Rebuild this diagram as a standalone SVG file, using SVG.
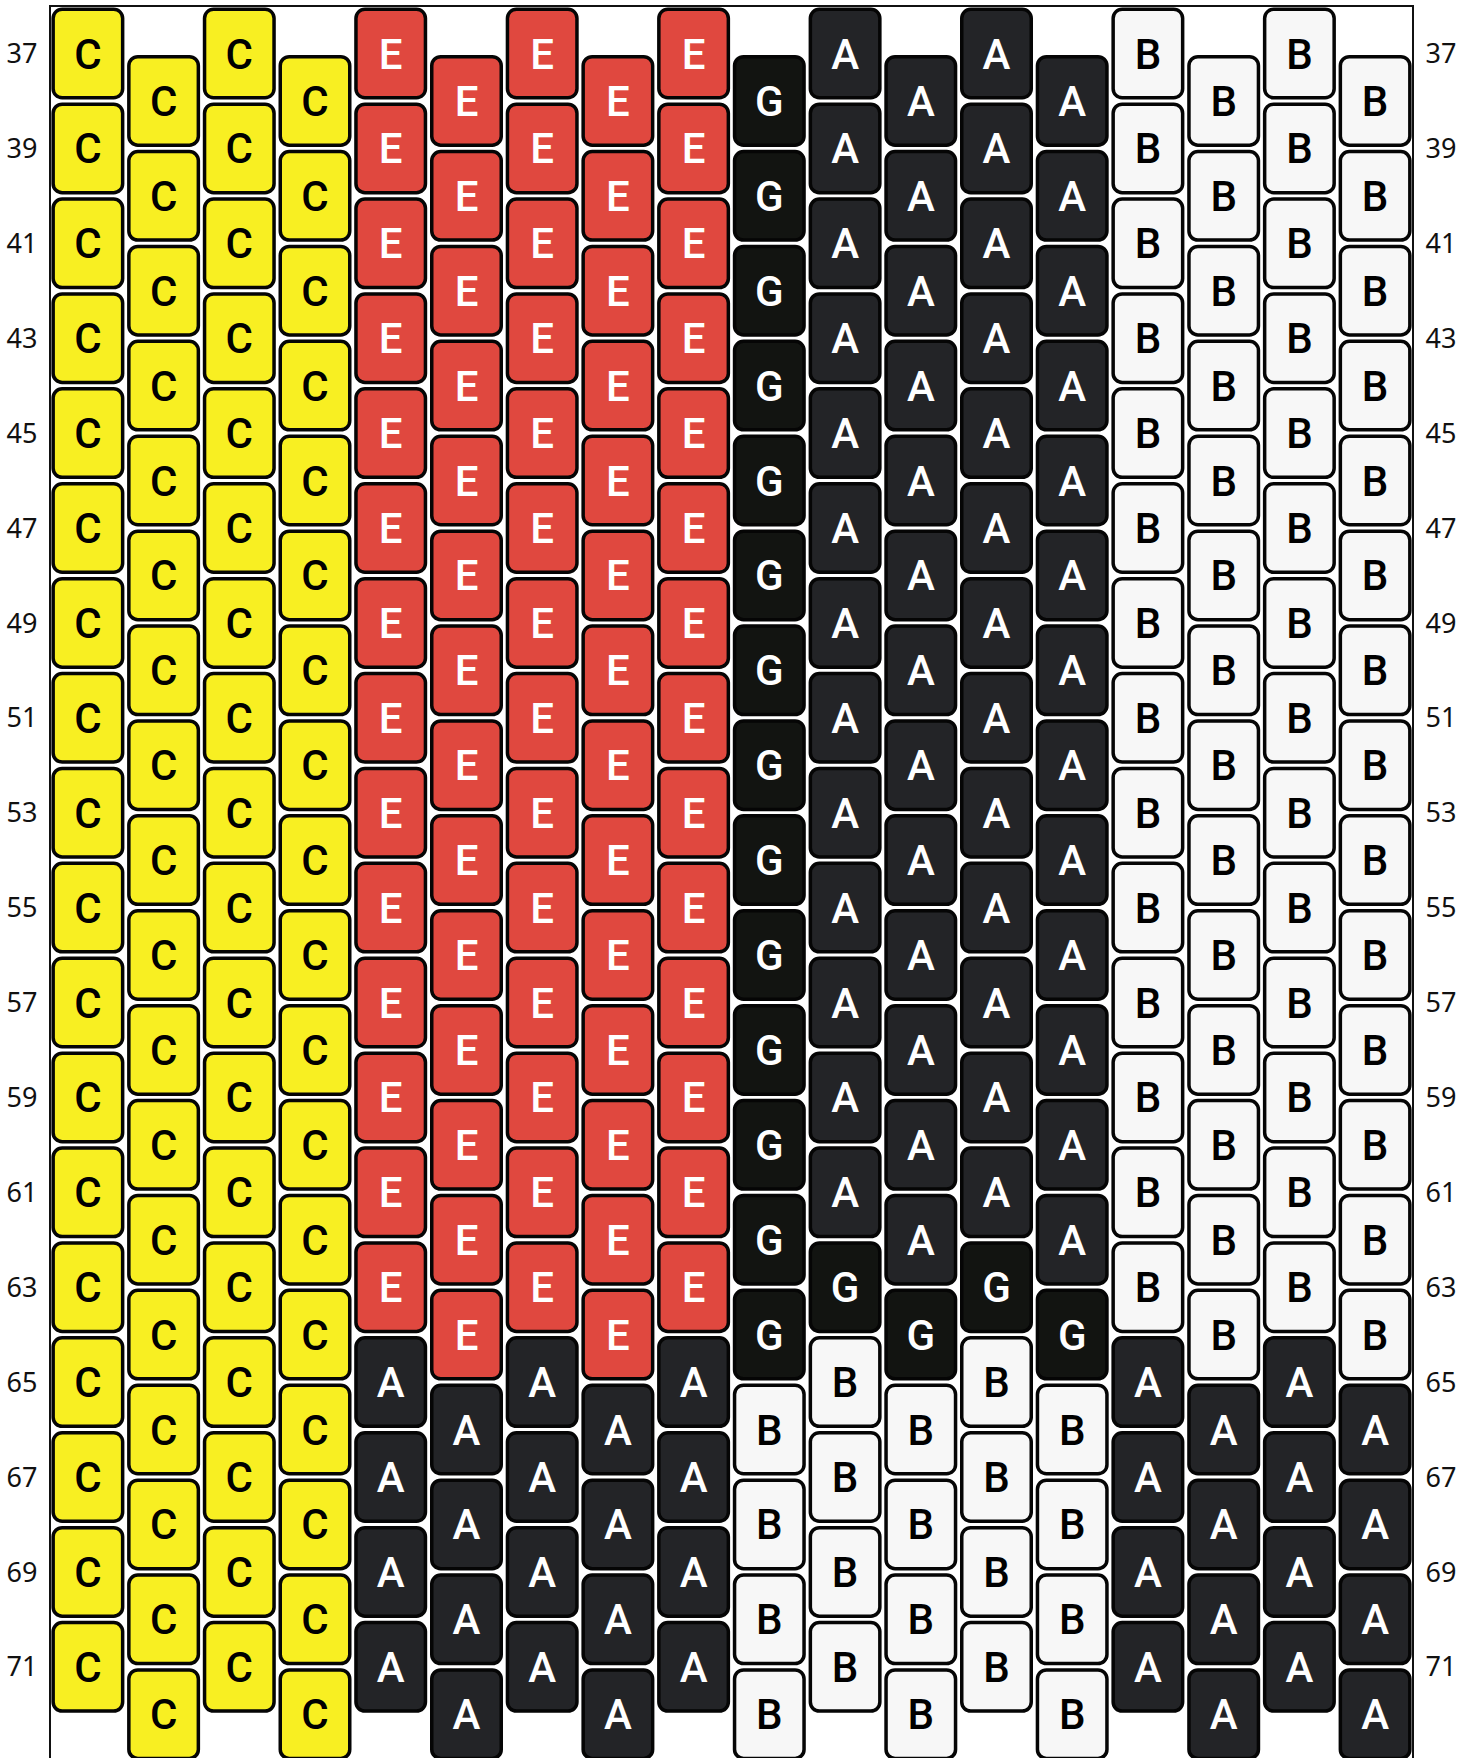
<svg xmlns="http://www.w3.org/2000/svg" width="1478" height="1758" viewBox="0 0 1478 1758">
<style>
.bg{fill:#fff}
.frame{fill:#fff;stroke:#111;stroke-width:2}
.lab{font-family:"Noto Sans","Open Sans",sans-serif;font-size:27px;fill:#111;text-anchor:middle}
.bead text{font-family:Roboto,"Liberation Sans",Arial,sans-serif;font-weight:500;font-size:42px;text-anchor:middle}
.y{fill:#f8ef22}.r{fill:#e0483f}.a{fill:#232427}.g{fill:#121411}.w{fill:#f7f7f7}
.y text,.w text{fill:#000}
.r text,.a text,.g text{fill:#fff}
</style>
<defs>
<rect id="bd" x="-34.75" y="-44.25" width="69.5" height="88.5" rx="9" stroke="#050505" stroke-width="3.5"/>
</defs>
<rect class="bg" x="0" y="0" width="1478" height="1758"/>
<rect class="frame" x="50" y="6" width="1363" height="1800"/>
<g id="labels-left">
<text class="lab" x="22" y="63.1">37</text><text class="lab" x="22" y="158">39</text><text class="lab" x="22" y="252.9">41</text><text class="lab" x="22" y="347.8">43</text><text class="lab" x="22" y="442.7">45</text><text class="lab" x="22" y="537.6">47</text><text class="lab" x="22" y="632.5">49</text><text class="lab" x="22" y="727.4">51</text><text class="lab" x="22" y="822.3">53</text><text class="lab" x="22" y="917.2">55</text><text class="lab" x="22" y="1012.1">57</text><text class="lab" x="22" y="1107">59</text><text class="lab" x="22" y="1201.9">61</text><text class="lab" x="22" y="1296.8">63</text><text class="lab" x="22" y="1391.7">65</text><text class="lab" x="22" y="1486.6">67</text><text class="lab" x="22" y="1581.5">69</text><text class="lab" x="22" y="1676.4">71</text>
</g>
<g id="labels-right">
<text class="lab" x="1441" y="63.1">37</text><text class="lab" x="1441" y="158">39</text><text class="lab" x="1441" y="252.9">41</text><text class="lab" x="1441" y="347.8">43</text><text class="lab" x="1441" y="442.7">45</text><text class="lab" x="1441" y="537.6">47</text><text class="lab" x="1441" y="632.5">49</text><text class="lab" x="1441" y="727.4">51</text><text class="lab" x="1441" y="822.3">53</text><text class="lab" x="1441" y="917.2">55</text><text class="lab" x="1441" y="1012.1">57</text><text class="lab" x="1441" y="1107">59</text><text class="lab" x="1441" y="1201.9">61</text><text class="lab" x="1441" y="1296.8">63</text><text class="lab" x="1441" y="1391.7">65</text><text class="lab" x="1441" y="1486.6">67</text><text class="lab" x="1441" y="1581.5">69</text><text class="lab" x="1441" y="1676.4">71</text>
</g>
<g id="connectors"></g>
<g id="col0" transform="translate(87.9 0)">
<g id="b0-37" class="bead y" transform="translate(0 53.5)"><use href="#bd"/><text y="15">C</text></g>
<g id="b0-39" class="bead y" transform="translate(0 148.4)"><use href="#bd"/><text y="15">C</text></g>
<g id="b0-41" class="bead y" transform="translate(0 243.3)"><use href="#bd"/><text y="15">C</text></g>
<g id="b0-43" class="bead y" transform="translate(0 338.2)"><use href="#bd"/><text y="15">C</text></g>
<g id="b0-45" class="bead y" transform="translate(0 433.1)"><use href="#bd"/><text y="15">C</text></g>
<g id="b0-47" class="bead y" transform="translate(0 528)"><use href="#bd"/><text y="15">C</text></g>
<g id="b0-49" class="bead y" transform="translate(0 622.9)"><use href="#bd"/><text y="15">C</text></g>
<g id="b0-51" class="bead y" transform="translate(0 717.8)"><use href="#bd"/><text y="15">C</text></g>
<g id="b0-53" class="bead y" transform="translate(0 812.7)"><use href="#bd"/><text y="15">C</text></g>
<g id="b0-55" class="bead y" transform="translate(0 907.6)"><use href="#bd"/><text y="15">C</text></g>
<g id="b0-57" class="bead y" transform="translate(0 1002.5)"><use href="#bd"/><text y="15">C</text></g>
<g id="b0-59" class="bead y" transform="translate(0 1097.4)"><use href="#bd"/><text y="15">C</text></g>
<g id="b0-61" class="bead y" transform="translate(0 1192.3)"><use href="#bd"/><text y="15">C</text></g>
<g id="b0-63" class="bead y" transform="translate(0 1287.2)"><use href="#bd"/><text y="15">C</text></g>
<g id="b0-65" class="bead y" transform="translate(0 1382.1)"><use href="#bd"/><text y="15">C</text></g>
<g id="b0-67" class="bead y" transform="translate(0 1477)"><use href="#bd"/><text y="15">C</text></g>
<g id="b0-69" class="bead y" transform="translate(0 1571.9)"><use href="#bd"/><text y="15">C</text></g>
<g id="b0-71" class="bead y" transform="translate(0 1666.8)"><use href="#bd"/><text y="15">C</text></g>
</g>
<g id="col1" transform="translate(163.6 0)">
<g id="b1-38" class="bead y" transform="translate(0 100.9)"><use href="#bd"/><text y="15">C</text></g>
<g id="b1-40" class="bead y" transform="translate(0 195.8)"><use href="#bd"/><text y="15">C</text></g>
<g id="b1-42" class="bead y" transform="translate(0 290.7)"><use href="#bd"/><text y="15">C</text></g>
<g id="b1-44" class="bead y" transform="translate(0 385.6)"><use href="#bd"/><text y="15">C</text></g>
<g id="b1-46" class="bead y" transform="translate(0 480.5)"><use href="#bd"/><text y="15">C</text></g>
<g id="b1-48" class="bead y" transform="translate(0 575.4)"><use href="#bd"/><text y="15">C</text></g>
<g id="b1-50" class="bead y" transform="translate(0 670.3)"><use href="#bd"/><text y="15">C</text></g>
<g id="b1-52" class="bead y" transform="translate(0 765.2)"><use href="#bd"/><text y="15">C</text></g>
<g id="b1-54" class="bead y" transform="translate(0 860.1)"><use href="#bd"/><text y="15">C</text></g>
<g id="b1-56" class="bead y" transform="translate(0 955)"><use href="#bd"/><text y="15">C</text></g>
<g id="b1-58" class="bead y" transform="translate(0 1049.9)"><use href="#bd"/><text y="15">C</text></g>
<g id="b1-60" class="bead y" transform="translate(0 1144.8)"><use href="#bd"/><text y="15">C</text></g>
<g id="b1-62" class="bead y" transform="translate(0 1239.7)"><use href="#bd"/><text y="15">C</text></g>
<g id="b1-64" class="bead y" transform="translate(0 1334.6)"><use href="#bd"/><text y="15">C</text></g>
<g id="b1-66" class="bead y" transform="translate(0 1429.5)"><use href="#bd"/><text y="15">C</text></g>
<g id="b1-68" class="bead y" transform="translate(0 1524.4)"><use href="#bd"/><text y="15">C</text></g>
<g id="b1-70" class="bead y" transform="translate(0 1619.3)"><use href="#bd"/><text y="15">C</text></g>
<g id="b1-72" class="bead y" transform="translate(0 1714.2)"><use href="#bd"/><text y="15">C</text></g>
</g>
<g id="col2" transform="translate(239.3 0)">
<g id="b2-37" class="bead y" transform="translate(0 53.5)"><use href="#bd"/><text y="15">C</text></g>
<g id="b2-39" class="bead y" transform="translate(0 148.4)"><use href="#bd"/><text y="15">C</text></g>
<g id="b2-41" class="bead y" transform="translate(0 243.3)"><use href="#bd"/><text y="15">C</text></g>
<g id="b2-43" class="bead y" transform="translate(0 338.2)"><use href="#bd"/><text y="15">C</text></g>
<g id="b2-45" class="bead y" transform="translate(0 433.1)"><use href="#bd"/><text y="15">C</text></g>
<g id="b2-47" class="bead y" transform="translate(0 528)"><use href="#bd"/><text y="15">C</text></g>
<g id="b2-49" class="bead y" transform="translate(0 622.9)"><use href="#bd"/><text y="15">C</text></g>
<g id="b2-51" class="bead y" transform="translate(0 717.8)"><use href="#bd"/><text y="15">C</text></g>
<g id="b2-53" class="bead y" transform="translate(0 812.7)"><use href="#bd"/><text y="15">C</text></g>
<g id="b2-55" class="bead y" transform="translate(0 907.6)"><use href="#bd"/><text y="15">C</text></g>
<g id="b2-57" class="bead y" transform="translate(0 1002.5)"><use href="#bd"/><text y="15">C</text></g>
<g id="b2-59" class="bead y" transform="translate(0 1097.4)"><use href="#bd"/><text y="15">C</text></g>
<g id="b2-61" class="bead y" transform="translate(0 1192.3)"><use href="#bd"/><text y="15">C</text></g>
<g id="b2-63" class="bead y" transform="translate(0 1287.2)"><use href="#bd"/><text y="15">C</text></g>
<g id="b2-65" class="bead y" transform="translate(0 1382.1)"><use href="#bd"/><text y="15">C</text></g>
<g id="b2-67" class="bead y" transform="translate(0 1477)"><use href="#bd"/><text y="15">C</text></g>
<g id="b2-69" class="bead y" transform="translate(0 1571.9)"><use href="#bd"/><text y="15">C</text></g>
<g id="b2-71" class="bead y" transform="translate(0 1666.8)"><use href="#bd"/><text y="15">C</text></g>
</g>
<g id="col3" transform="translate(315 0)">
<g id="b3-38" class="bead y" transform="translate(0 100.9)"><use href="#bd"/><text y="15">C</text></g>
<g id="b3-40" class="bead y" transform="translate(0 195.8)"><use href="#bd"/><text y="15">C</text></g>
<g id="b3-42" class="bead y" transform="translate(0 290.7)"><use href="#bd"/><text y="15">C</text></g>
<g id="b3-44" class="bead y" transform="translate(0 385.6)"><use href="#bd"/><text y="15">C</text></g>
<g id="b3-46" class="bead y" transform="translate(0 480.5)"><use href="#bd"/><text y="15">C</text></g>
<g id="b3-48" class="bead y" transform="translate(0 575.4)"><use href="#bd"/><text y="15">C</text></g>
<g id="b3-50" class="bead y" transform="translate(0 670.3)"><use href="#bd"/><text y="15">C</text></g>
<g id="b3-52" class="bead y" transform="translate(0 765.2)"><use href="#bd"/><text y="15">C</text></g>
<g id="b3-54" class="bead y" transform="translate(0 860.1)"><use href="#bd"/><text y="15">C</text></g>
<g id="b3-56" class="bead y" transform="translate(0 955)"><use href="#bd"/><text y="15">C</text></g>
<g id="b3-58" class="bead y" transform="translate(0 1049.9)"><use href="#bd"/><text y="15">C</text></g>
<g id="b3-60" class="bead y" transform="translate(0 1144.8)"><use href="#bd"/><text y="15">C</text></g>
<g id="b3-62" class="bead y" transform="translate(0 1239.7)"><use href="#bd"/><text y="15">C</text></g>
<g id="b3-64" class="bead y" transform="translate(0 1334.6)"><use href="#bd"/><text y="15">C</text></g>
<g id="b3-66" class="bead y" transform="translate(0 1429.5)"><use href="#bd"/><text y="15">C</text></g>
<g id="b3-68" class="bead y" transform="translate(0 1524.4)"><use href="#bd"/><text y="15">C</text></g>
<g id="b3-70" class="bead y" transform="translate(0 1619.3)"><use href="#bd"/><text y="15">C</text></g>
<g id="b3-72" class="bead y" transform="translate(0 1714.2)"><use href="#bd"/><text y="15">C</text></g>
</g>
<g id="col4" transform="translate(390.7 0)">
<g id="b4-37" class="bead r" transform="translate(0 53.5)"><use href="#bd"/><text y="15">E</text></g>
<g id="b4-39" class="bead r" transform="translate(0 148.4)"><use href="#bd"/><text y="15">E</text></g>
<g id="b4-41" class="bead r" transform="translate(0 243.3)"><use href="#bd"/><text y="15">E</text></g>
<g id="b4-43" class="bead r" transform="translate(0 338.2)"><use href="#bd"/><text y="15">E</text></g>
<g id="b4-45" class="bead r" transform="translate(0 433.1)"><use href="#bd"/><text y="15">E</text></g>
<g id="b4-47" class="bead r" transform="translate(0 528)"><use href="#bd"/><text y="15">E</text></g>
<g id="b4-49" class="bead r" transform="translate(0 622.9)"><use href="#bd"/><text y="15">E</text></g>
<g id="b4-51" class="bead r" transform="translate(0 717.8)"><use href="#bd"/><text y="15">E</text></g>
<g id="b4-53" class="bead r" transform="translate(0 812.7)"><use href="#bd"/><text y="15">E</text></g>
<g id="b4-55" class="bead r" transform="translate(0 907.6)"><use href="#bd"/><text y="15">E</text></g>
<g id="b4-57" class="bead r" transform="translate(0 1002.5)"><use href="#bd"/><text y="15">E</text></g>
<g id="b4-59" class="bead r" transform="translate(0 1097.4)"><use href="#bd"/><text y="15">E</text></g>
<g id="b4-61" class="bead r" transform="translate(0 1192.3)"><use href="#bd"/><text y="15">E</text></g>
<g id="b4-63" class="bead r" transform="translate(0 1287.2)"><use href="#bd"/><text y="15">E</text></g>
<g id="b4-65" class="bead a" transform="translate(0 1382.1)"><use href="#bd"/><text y="15">A</text></g>
<g id="b4-67" class="bead a" transform="translate(0 1477)"><use href="#bd"/><text y="15">A</text></g>
<g id="b4-69" class="bead a" transform="translate(0 1571.9)"><use href="#bd"/><text y="15">A</text></g>
<g id="b4-71" class="bead a" transform="translate(0 1666.8)"><use href="#bd"/><text y="15">A</text></g>
</g>
<g id="col5" transform="translate(466.5 0)">
<g id="b5-38" class="bead r" transform="translate(0 100.9)"><use href="#bd"/><text y="15">E</text></g>
<g id="b5-40" class="bead r" transform="translate(0 195.8)"><use href="#bd"/><text y="15">E</text></g>
<g id="b5-42" class="bead r" transform="translate(0 290.7)"><use href="#bd"/><text y="15">E</text></g>
<g id="b5-44" class="bead r" transform="translate(0 385.6)"><use href="#bd"/><text y="15">E</text></g>
<g id="b5-46" class="bead r" transform="translate(0 480.5)"><use href="#bd"/><text y="15">E</text></g>
<g id="b5-48" class="bead r" transform="translate(0 575.4)"><use href="#bd"/><text y="15">E</text></g>
<g id="b5-50" class="bead r" transform="translate(0 670.3)"><use href="#bd"/><text y="15">E</text></g>
<g id="b5-52" class="bead r" transform="translate(0 765.2)"><use href="#bd"/><text y="15">E</text></g>
<g id="b5-54" class="bead r" transform="translate(0 860.1)"><use href="#bd"/><text y="15">E</text></g>
<g id="b5-56" class="bead r" transform="translate(0 955)"><use href="#bd"/><text y="15">E</text></g>
<g id="b5-58" class="bead r" transform="translate(0 1049.9)"><use href="#bd"/><text y="15">E</text></g>
<g id="b5-60" class="bead r" transform="translate(0 1144.8)"><use href="#bd"/><text y="15">E</text></g>
<g id="b5-62" class="bead r" transform="translate(0 1239.7)"><use href="#bd"/><text y="15">E</text></g>
<g id="b5-64" class="bead r" transform="translate(0 1334.6)"><use href="#bd"/><text y="15">E</text></g>
<g id="b5-66" class="bead a" transform="translate(0 1429.5)"><use href="#bd"/><text y="15">A</text></g>
<g id="b5-68" class="bead a" transform="translate(0 1524.4)"><use href="#bd"/><text y="15">A</text></g>
<g id="b5-70" class="bead a" transform="translate(0 1619.3)"><use href="#bd"/><text y="15">A</text></g>
<g id="b5-72" class="bead a" transform="translate(0 1714.2)"><use href="#bd"/><text y="15">A</text></g>
</g>
<g id="col6" transform="translate(542.2 0)">
<g id="b6-37" class="bead r" transform="translate(0 53.5)"><use href="#bd"/><text y="15">E</text></g>
<g id="b6-39" class="bead r" transform="translate(0 148.4)"><use href="#bd"/><text y="15">E</text></g>
<g id="b6-41" class="bead r" transform="translate(0 243.3)"><use href="#bd"/><text y="15">E</text></g>
<g id="b6-43" class="bead r" transform="translate(0 338.2)"><use href="#bd"/><text y="15">E</text></g>
<g id="b6-45" class="bead r" transform="translate(0 433.1)"><use href="#bd"/><text y="15">E</text></g>
<g id="b6-47" class="bead r" transform="translate(0 528)"><use href="#bd"/><text y="15">E</text></g>
<g id="b6-49" class="bead r" transform="translate(0 622.9)"><use href="#bd"/><text y="15">E</text></g>
<g id="b6-51" class="bead r" transform="translate(0 717.8)"><use href="#bd"/><text y="15">E</text></g>
<g id="b6-53" class="bead r" transform="translate(0 812.7)"><use href="#bd"/><text y="15">E</text></g>
<g id="b6-55" class="bead r" transform="translate(0 907.6)"><use href="#bd"/><text y="15">E</text></g>
<g id="b6-57" class="bead r" transform="translate(0 1002.5)"><use href="#bd"/><text y="15">E</text></g>
<g id="b6-59" class="bead r" transform="translate(0 1097.4)"><use href="#bd"/><text y="15">E</text></g>
<g id="b6-61" class="bead r" transform="translate(0 1192.3)"><use href="#bd"/><text y="15">E</text></g>
<g id="b6-63" class="bead r" transform="translate(0 1287.2)"><use href="#bd"/><text y="15">E</text></g>
<g id="b6-65" class="bead a" transform="translate(0 1382.1)"><use href="#bd"/><text y="15">A</text></g>
<g id="b6-67" class="bead a" transform="translate(0 1477)"><use href="#bd"/><text y="15">A</text></g>
<g id="b6-69" class="bead a" transform="translate(0 1571.9)"><use href="#bd"/><text y="15">A</text></g>
<g id="b6-71" class="bead a" transform="translate(0 1666.8)"><use href="#bd"/><text y="15">A</text></g>
</g>
<g id="col7" transform="translate(617.9 0)">
<g id="b7-38" class="bead r" transform="translate(0 100.9)"><use href="#bd"/><text y="15">E</text></g>
<g id="b7-40" class="bead r" transform="translate(0 195.8)"><use href="#bd"/><text y="15">E</text></g>
<g id="b7-42" class="bead r" transform="translate(0 290.7)"><use href="#bd"/><text y="15">E</text></g>
<g id="b7-44" class="bead r" transform="translate(0 385.6)"><use href="#bd"/><text y="15">E</text></g>
<g id="b7-46" class="bead r" transform="translate(0 480.5)"><use href="#bd"/><text y="15">E</text></g>
<g id="b7-48" class="bead r" transform="translate(0 575.4)"><use href="#bd"/><text y="15">E</text></g>
<g id="b7-50" class="bead r" transform="translate(0 670.3)"><use href="#bd"/><text y="15">E</text></g>
<g id="b7-52" class="bead r" transform="translate(0 765.2)"><use href="#bd"/><text y="15">E</text></g>
<g id="b7-54" class="bead r" transform="translate(0 860.1)"><use href="#bd"/><text y="15">E</text></g>
<g id="b7-56" class="bead r" transform="translate(0 955)"><use href="#bd"/><text y="15">E</text></g>
<g id="b7-58" class="bead r" transform="translate(0 1049.9)"><use href="#bd"/><text y="15">E</text></g>
<g id="b7-60" class="bead r" transform="translate(0 1144.8)"><use href="#bd"/><text y="15">E</text></g>
<g id="b7-62" class="bead r" transform="translate(0 1239.7)"><use href="#bd"/><text y="15">E</text></g>
<g id="b7-64" class="bead r" transform="translate(0 1334.6)"><use href="#bd"/><text y="15">E</text></g>
<g id="b7-66" class="bead a" transform="translate(0 1429.5)"><use href="#bd"/><text y="15">A</text></g>
<g id="b7-68" class="bead a" transform="translate(0 1524.4)"><use href="#bd"/><text y="15">A</text></g>
<g id="b7-70" class="bead a" transform="translate(0 1619.3)"><use href="#bd"/><text y="15">A</text></g>
<g id="b7-72" class="bead a" transform="translate(0 1714.2)"><use href="#bd"/><text y="15">A</text></g>
</g>
<g id="col8" transform="translate(693.6 0)">
<g id="b8-37" class="bead r" transform="translate(0 53.5)"><use href="#bd"/><text y="15">E</text></g>
<g id="b8-39" class="bead r" transform="translate(0 148.4)"><use href="#bd"/><text y="15">E</text></g>
<g id="b8-41" class="bead r" transform="translate(0 243.3)"><use href="#bd"/><text y="15">E</text></g>
<g id="b8-43" class="bead r" transform="translate(0 338.2)"><use href="#bd"/><text y="15">E</text></g>
<g id="b8-45" class="bead r" transform="translate(0 433.1)"><use href="#bd"/><text y="15">E</text></g>
<g id="b8-47" class="bead r" transform="translate(0 528)"><use href="#bd"/><text y="15">E</text></g>
<g id="b8-49" class="bead r" transform="translate(0 622.9)"><use href="#bd"/><text y="15">E</text></g>
<g id="b8-51" class="bead r" transform="translate(0 717.8)"><use href="#bd"/><text y="15">E</text></g>
<g id="b8-53" class="bead r" transform="translate(0 812.7)"><use href="#bd"/><text y="15">E</text></g>
<g id="b8-55" class="bead r" transform="translate(0 907.6)"><use href="#bd"/><text y="15">E</text></g>
<g id="b8-57" class="bead r" transform="translate(0 1002.5)"><use href="#bd"/><text y="15">E</text></g>
<g id="b8-59" class="bead r" transform="translate(0 1097.4)"><use href="#bd"/><text y="15">E</text></g>
<g id="b8-61" class="bead r" transform="translate(0 1192.3)"><use href="#bd"/><text y="15">E</text></g>
<g id="b8-63" class="bead r" transform="translate(0 1287.2)"><use href="#bd"/><text y="15">E</text></g>
<g id="b8-65" class="bead a" transform="translate(0 1382.1)"><use href="#bd"/><text y="15">A</text></g>
<g id="b8-67" class="bead a" transform="translate(0 1477)"><use href="#bd"/><text y="15">A</text></g>
<g id="b8-69" class="bead a" transform="translate(0 1571.9)"><use href="#bd"/><text y="15">A</text></g>
<g id="b8-71" class="bead a" transform="translate(0 1666.8)"><use href="#bd"/><text y="15">A</text></g>
</g>
<g id="col9" transform="translate(769.3 0)">
<g id="b9-38" class="bead g" transform="translate(0 100.9)"><use href="#bd"/><text y="15">G</text></g>
<g id="b9-40" class="bead g" transform="translate(0 195.8)"><use href="#bd"/><text y="15">G</text></g>
<g id="b9-42" class="bead g" transform="translate(0 290.7)"><use href="#bd"/><text y="15">G</text></g>
<g id="b9-44" class="bead g" transform="translate(0 385.6)"><use href="#bd"/><text y="15">G</text></g>
<g id="b9-46" class="bead g" transform="translate(0 480.5)"><use href="#bd"/><text y="15">G</text></g>
<g id="b9-48" class="bead g" transform="translate(0 575.4)"><use href="#bd"/><text y="15">G</text></g>
<g id="b9-50" class="bead g" transform="translate(0 670.3)"><use href="#bd"/><text y="15">G</text></g>
<g id="b9-52" class="bead g" transform="translate(0 765.2)"><use href="#bd"/><text y="15">G</text></g>
<g id="b9-54" class="bead g" transform="translate(0 860.1)"><use href="#bd"/><text y="15">G</text></g>
<g id="b9-56" class="bead g" transform="translate(0 955)"><use href="#bd"/><text y="15">G</text></g>
<g id="b9-58" class="bead g" transform="translate(0 1049.9)"><use href="#bd"/><text y="15">G</text></g>
<g id="b9-60" class="bead g" transform="translate(0 1144.8)"><use href="#bd"/><text y="15">G</text></g>
<g id="b9-62" class="bead g" transform="translate(0 1239.7)"><use href="#bd"/><text y="15">G</text></g>
<g id="b9-64" class="bead g" transform="translate(0 1334.6)"><use href="#bd"/><text y="15">G</text></g>
<g id="b9-66" class="bead w" transform="translate(0 1429.5)"><use href="#bd"/><text y="15">B</text></g>
<g id="b9-68" class="bead w" transform="translate(0 1524.4)"><use href="#bd"/><text y="15">B</text></g>
<g id="b9-70" class="bead w" transform="translate(0 1619.3)"><use href="#bd"/><text y="15">B</text></g>
<g id="b9-72" class="bead w" transform="translate(0 1714.2)"><use href="#bd"/><text y="15">B</text></g>
</g>
<g id="col10" transform="translate(845.1 0)">
<g id="b10-37" class="bead a" transform="translate(0 53.5)"><use href="#bd"/><text y="15">A</text></g>
<g id="b10-39" class="bead a" transform="translate(0 148.4)"><use href="#bd"/><text y="15">A</text></g>
<g id="b10-41" class="bead a" transform="translate(0 243.3)"><use href="#bd"/><text y="15">A</text></g>
<g id="b10-43" class="bead a" transform="translate(0 338.2)"><use href="#bd"/><text y="15">A</text></g>
<g id="b10-45" class="bead a" transform="translate(0 433.1)"><use href="#bd"/><text y="15">A</text></g>
<g id="b10-47" class="bead a" transform="translate(0 528)"><use href="#bd"/><text y="15">A</text></g>
<g id="b10-49" class="bead a" transform="translate(0 622.9)"><use href="#bd"/><text y="15">A</text></g>
<g id="b10-51" class="bead a" transform="translate(0 717.8)"><use href="#bd"/><text y="15">A</text></g>
<g id="b10-53" class="bead a" transform="translate(0 812.7)"><use href="#bd"/><text y="15">A</text></g>
<g id="b10-55" class="bead a" transform="translate(0 907.6)"><use href="#bd"/><text y="15">A</text></g>
<g id="b10-57" class="bead a" transform="translate(0 1002.5)"><use href="#bd"/><text y="15">A</text></g>
<g id="b10-59" class="bead a" transform="translate(0 1097.4)"><use href="#bd"/><text y="15">A</text></g>
<g id="b10-61" class="bead a" transform="translate(0 1192.3)"><use href="#bd"/><text y="15">A</text></g>
<g id="b10-63" class="bead g" transform="translate(0 1287.2)"><use href="#bd"/><text y="15">G</text></g>
<g id="b10-65" class="bead w" transform="translate(0 1382.1)"><use href="#bd"/><text y="15">B</text></g>
<g id="b10-67" class="bead w" transform="translate(0 1477)"><use href="#bd"/><text y="15">B</text></g>
<g id="b10-69" class="bead w" transform="translate(0 1571.9)"><use href="#bd"/><text y="15">B</text></g>
<g id="b10-71" class="bead w" transform="translate(0 1666.8)"><use href="#bd"/><text y="15">B</text></g>
</g>
<g id="col11" transform="translate(920.8 0)">
<g id="b11-38" class="bead a" transform="translate(0 100.9)"><use href="#bd"/><text y="15">A</text></g>
<g id="b11-40" class="bead a" transform="translate(0 195.8)"><use href="#bd"/><text y="15">A</text></g>
<g id="b11-42" class="bead a" transform="translate(0 290.7)"><use href="#bd"/><text y="15">A</text></g>
<g id="b11-44" class="bead a" transform="translate(0 385.6)"><use href="#bd"/><text y="15">A</text></g>
<g id="b11-46" class="bead a" transform="translate(0 480.5)"><use href="#bd"/><text y="15">A</text></g>
<g id="b11-48" class="bead a" transform="translate(0 575.4)"><use href="#bd"/><text y="15">A</text></g>
<g id="b11-50" class="bead a" transform="translate(0 670.3)"><use href="#bd"/><text y="15">A</text></g>
<g id="b11-52" class="bead a" transform="translate(0 765.2)"><use href="#bd"/><text y="15">A</text></g>
<g id="b11-54" class="bead a" transform="translate(0 860.1)"><use href="#bd"/><text y="15">A</text></g>
<g id="b11-56" class="bead a" transform="translate(0 955)"><use href="#bd"/><text y="15">A</text></g>
<g id="b11-58" class="bead a" transform="translate(0 1049.9)"><use href="#bd"/><text y="15">A</text></g>
<g id="b11-60" class="bead a" transform="translate(0 1144.8)"><use href="#bd"/><text y="15">A</text></g>
<g id="b11-62" class="bead a" transform="translate(0 1239.7)"><use href="#bd"/><text y="15">A</text></g>
<g id="b11-64" class="bead g" transform="translate(0 1334.6)"><use href="#bd"/><text y="15">G</text></g>
<g id="b11-66" class="bead w" transform="translate(0 1429.5)"><use href="#bd"/><text y="15">B</text></g>
<g id="b11-68" class="bead w" transform="translate(0 1524.4)"><use href="#bd"/><text y="15">B</text></g>
<g id="b11-70" class="bead w" transform="translate(0 1619.3)"><use href="#bd"/><text y="15">B</text></g>
<g id="b11-72" class="bead w" transform="translate(0 1714.2)"><use href="#bd"/><text y="15">B</text></g>
</g>
<g id="col12" transform="translate(996.5 0)">
<g id="b12-37" class="bead a" transform="translate(0 53.5)"><use href="#bd"/><text y="15">A</text></g>
<g id="b12-39" class="bead a" transform="translate(0 148.4)"><use href="#bd"/><text y="15">A</text></g>
<g id="b12-41" class="bead a" transform="translate(0 243.3)"><use href="#bd"/><text y="15">A</text></g>
<g id="b12-43" class="bead a" transform="translate(0 338.2)"><use href="#bd"/><text y="15">A</text></g>
<g id="b12-45" class="bead a" transform="translate(0 433.1)"><use href="#bd"/><text y="15">A</text></g>
<g id="b12-47" class="bead a" transform="translate(0 528)"><use href="#bd"/><text y="15">A</text></g>
<g id="b12-49" class="bead a" transform="translate(0 622.9)"><use href="#bd"/><text y="15">A</text></g>
<g id="b12-51" class="bead a" transform="translate(0 717.8)"><use href="#bd"/><text y="15">A</text></g>
<g id="b12-53" class="bead a" transform="translate(0 812.7)"><use href="#bd"/><text y="15">A</text></g>
<g id="b12-55" class="bead a" transform="translate(0 907.6)"><use href="#bd"/><text y="15">A</text></g>
<g id="b12-57" class="bead a" transform="translate(0 1002.5)"><use href="#bd"/><text y="15">A</text></g>
<g id="b12-59" class="bead a" transform="translate(0 1097.4)"><use href="#bd"/><text y="15">A</text></g>
<g id="b12-61" class="bead a" transform="translate(0 1192.3)"><use href="#bd"/><text y="15">A</text></g>
<g id="b12-63" class="bead g" transform="translate(0 1287.2)"><use href="#bd"/><text y="15">G</text></g>
<g id="b12-65" class="bead w" transform="translate(0 1382.1)"><use href="#bd"/><text y="15">B</text></g>
<g id="b12-67" class="bead w" transform="translate(0 1477)"><use href="#bd"/><text y="15">B</text></g>
<g id="b12-69" class="bead w" transform="translate(0 1571.9)"><use href="#bd"/><text y="15">B</text></g>
<g id="b12-71" class="bead w" transform="translate(0 1666.8)"><use href="#bd"/><text y="15">B</text></g>
</g>
<g id="col13" transform="translate(1072.2 0)">
<g id="b13-38" class="bead a" transform="translate(0 100.9)"><use href="#bd"/><text y="15">A</text></g>
<g id="b13-40" class="bead a" transform="translate(0 195.8)"><use href="#bd"/><text y="15">A</text></g>
<g id="b13-42" class="bead a" transform="translate(0 290.7)"><use href="#bd"/><text y="15">A</text></g>
<g id="b13-44" class="bead a" transform="translate(0 385.6)"><use href="#bd"/><text y="15">A</text></g>
<g id="b13-46" class="bead a" transform="translate(0 480.5)"><use href="#bd"/><text y="15">A</text></g>
<g id="b13-48" class="bead a" transform="translate(0 575.4)"><use href="#bd"/><text y="15">A</text></g>
<g id="b13-50" class="bead a" transform="translate(0 670.3)"><use href="#bd"/><text y="15">A</text></g>
<g id="b13-52" class="bead a" transform="translate(0 765.2)"><use href="#bd"/><text y="15">A</text></g>
<g id="b13-54" class="bead a" transform="translate(0 860.1)"><use href="#bd"/><text y="15">A</text></g>
<g id="b13-56" class="bead a" transform="translate(0 955)"><use href="#bd"/><text y="15">A</text></g>
<g id="b13-58" class="bead a" transform="translate(0 1049.9)"><use href="#bd"/><text y="15">A</text></g>
<g id="b13-60" class="bead a" transform="translate(0 1144.8)"><use href="#bd"/><text y="15">A</text></g>
<g id="b13-62" class="bead a" transform="translate(0 1239.7)"><use href="#bd"/><text y="15">A</text></g>
<g id="b13-64" class="bead g" transform="translate(0 1334.6)"><use href="#bd"/><text y="15">G</text></g>
<g id="b13-66" class="bead w" transform="translate(0 1429.5)"><use href="#bd"/><text y="15">B</text></g>
<g id="b13-68" class="bead w" transform="translate(0 1524.4)"><use href="#bd"/><text y="15">B</text></g>
<g id="b13-70" class="bead w" transform="translate(0 1619.3)"><use href="#bd"/><text y="15">B</text></g>
<g id="b13-72" class="bead w" transform="translate(0 1714.2)"><use href="#bd"/><text y="15">B</text></g>
</g>
<g id="col14" transform="translate(1147.9 0)">
<g id="b14-37" class="bead w" transform="translate(0 53.5)"><use href="#bd"/><text y="15">B</text></g>
<g id="b14-39" class="bead w" transform="translate(0 148.4)"><use href="#bd"/><text y="15">B</text></g>
<g id="b14-41" class="bead w" transform="translate(0 243.3)"><use href="#bd"/><text y="15">B</text></g>
<g id="b14-43" class="bead w" transform="translate(0 338.2)"><use href="#bd"/><text y="15">B</text></g>
<g id="b14-45" class="bead w" transform="translate(0 433.1)"><use href="#bd"/><text y="15">B</text></g>
<g id="b14-47" class="bead w" transform="translate(0 528)"><use href="#bd"/><text y="15">B</text></g>
<g id="b14-49" class="bead w" transform="translate(0 622.9)"><use href="#bd"/><text y="15">B</text></g>
<g id="b14-51" class="bead w" transform="translate(0 717.8)"><use href="#bd"/><text y="15">B</text></g>
<g id="b14-53" class="bead w" transform="translate(0 812.7)"><use href="#bd"/><text y="15">B</text></g>
<g id="b14-55" class="bead w" transform="translate(0 907.6)"><use href="#bd"/><text y="15">B</text></g>
<g id="b14-57" class="bead w" transform="translate(0 1002.5)"><use href="#bd"/><text y="15">B</text></g>
<g id="b14-59" class="bead w" transform="translate(0 1097.4)"><use href="#bd"/><text y="15">B</text></g>
<g id="b14-61" class="bead w" transform="translate(0 1192.3)"><use href="#bd"/><text y="15">B</text></g>
<g id="b14-63" class="bead w" transform="translate(0 1287.2)"><use href="#bd"/><text y="15">B</text></g>
<g id="b14-65" class="bead a" transform="translate(0 1382.1)"><use href="#bd"/><text y="15">A</text></g>
<g id="b14-67" class="bead a" transform="translate(0 1477)"><use href="#bd"/><text y="15">A</text></g>
<g id="b14-69" class="bead a" transform="translate(0 1571.9)"><use href="#bd"/><text y="15">A</text></g>
<g id="b14-71" class="bead a" transform="translate(0 1666.8)"><use href="#bd"/><text y="15">A</text></g>
</g>
<g id="col15" transform="translate(1223.7 0)">
<g id="b15-38" class="bead w" transform="translate(0 100.9)"><use href="#bd"/><text y="15">B</text></g>
<g id="b15-40" class="bead w" transform="translate(0 195.8)"><use href="#bd"/><text y="15">B</text></g>
<g id="b15-42" class="bead w" transform="translate(0 290.7)"><use href="#bd"/><text y="15">B</text></g>
<g id="b15-44" class="bead w" transform="translate(0 385.6)"><use href="#bd"/><text y="15">B</text></g>
<g id="b15-46" class="bead w" transform="translate(0 480.5)"><use href="#bd"/><text y="15">B</text></g>
<g id="b15-48" class="bead w" transform="translate(0 575.4)"><use href="#bd"/><text y="15">B</text></g>
<g id="b15-50" class="bead w" transform="translate(0 670.3)"><use href="#bd"/><text y="15">B</text></g>
<g id="b15-52" class="bead w" transform="translate(0 765.2)"><use href="#bd"/><text y="15">B</text></g>
<g id="b15-54" class="bead w" transform="translate(0 860.1)"><use href="#bd"/><text y="15">B</text></g>
<g id="b15-56" class="bead w" transform="translate(0 955)"><use href="#bd"/><text y="15">B</text></g>
<g id="b15-58" class="bead w" transform="translate(0 1049.9)"><use href="#bd"/><text y="15">B</text></g>
<g id="b15-60" class="bead w" transform="translate(0 1144.8)"><use href="#bd"/><text y="15">B</text></g>
<g id="b15-62" class="bead w" transform="translate(0 1239.7)"><use href="#bd"/><text y="15">B</text></g>
<g id="b15-64" class="bead w" transform="translate(0 1334.6)"><use href="#bd"/><text y="15">B</text></g>
<g id="b15-66" class="bead a" transform="translate(0 1429.5)"><use href="#bd"/><text y="15">A</text></g>
<g id="b15-68" class="bead a" transform="translate(0 1524.4)"><use href="#bd"/><text y="15">A</text></g>
<g id="b15-70" class="bead a" transform="translate(0 1619.3)"><use href="#bd"/><text y="15">A</text></g>
<g id="b15-72" class="bead a" transform="translate(0 1714.2)"><use href="#bd"/><text y="15">A</text></g>
</g>
<g id="col16" transform="translate(1299.4 0)">
<g id="b16-37" class="bead w" transform="translate(0 53.5)"><use href="#bd"/><text y="15">B</text></g>
<g id="b16-39" class="bead w" transform="translate(0 148.4)"><use href="#bd"/><text y="15">B</text></g>
<g id="b16-41" class="bead w" transform="translate(0 243.3)"><use href="#bd"/><text y="15">B</text></g>
<g id="b16-43" class="bead w" transform="translate(0 338.2)"><use href="#bd"/><text y="15">B</text></g>
<g id="b16-45" class="bead w" transform="translate(0 433.1)"><use href="#bd"/><text y="15">B</text></g>
<g id="b16-47" class="bead w" transform="translate(0 528)"><use href="#bd"/><text y="15">B</text></g>
<g id="b16-49" class="bead w" transform="translate(0 622.9)"><use href="#bd"/><text y="15">B</text></g>
<g id="b16-51" class="bead w" transform="translate(0 717.8)"><use href="#bd"/><text y="15">B</text></g>
<g id="b16-53" class="bead w" transform="translate(0 812.7)"><use href="#bd"/><text y="15">B</text></g>
<g id="b16-55" class="bead w" transform="translate(0 907.6)"><use href="#bd"/><text y="15">B</text></g>
<g id="b16-57" class="bead w" transform="translate(0 1002.5)"><use href="#bd"/><text y="15">B</text></g>
<g id="b16-59" class="bead w" transform="translate(0 1097.4)"><use href="#bd"/><text y="15">B</text></g>
<g id="b16-61" class="bead w" transform="translate(0 1192.3)"><use href="#bd"/><text y="15">B</text></g>
<g id="b16-63" class="bead w" transform="translate(0 1287.2)"><use href="#bd"/><text y="15">B</text></g>
<g id="b16-65" class="bead a" transform="translate(0 1382.1)"><use href="#bd"/><text y="15">A</text></g>
<g id="b16-67" class="bead a" transform="translate(0 1477)"><use href="#bd"/><text y="15">A</text></g>
<g id="b16-69" class="bead a" transform="translate(0 1571.9)"><use href="#bd"/><text y="15">A</text></g>
<g id="b16-71" class="bead a" transform="translate(0 1666.8)"><use href="#bd"/><text y="15">A</text></g>
</g>
<g id="col17" transform="translate(1375.1 0)">
<g id="b17-38" class="bead w" transform="translate(0 100.9)"><use href="#bd"/><text y="15">B</text></g>
<g id="b17-40" class="bead w" transform="translate(0 195.8)"><use href="#bd"/><text y="15">B</text></g>
<g id="b17-42" class="bead w" transform="translate(0 290.7)"><use href="#bd"/><text y="15">B</text></g>
<g id="b17-44" class="bead w" transform="translate(0 385.6)"><use href="#bd"/><text y="15">B</text></g>
<g id="b17-46" class="bead w" transform="translate(0 480.5)"><use href="#bd"/><text y="15">B</text></g>
<g id="b17-48" class="bead w" transform="translate(0 575.4)"><use href="#bd"/><text y="15">B</text></g>
<g id="b17-50" class="bead w" transform="translate(0 670.3)"><use href="#bd"/><text y="15">B</text></g>
<g id="b17-52" class="bead w" transform="translate(0 765.2)"><use href="#bd"/><text y="15">B</text></g>
<g id="b17-54" class="bead w" transform="translate(0 860.1)"><use href="#bd"/><text y="15">B</text></g>
<g id="b17-56" class="bead w" transform="translate(0 955)"><use href="#bd"/><text y="15">B</text></g>
<g id="b17-58" class="bead w" transform="translate(0 1049.9)"><use href="#bd"/><text y="15">B</text></g>
<g id="b17-60" class="bead w" transform="translate(0 1144.8)"><use href="#bd"/><text y="15">B</text></g>
<g id="b17-62" class="bead w" transform="translate(0 1239.7)"><use href="#bd"/><text y="15">B</text></g>
<g id="b17-64" class="bead w" transform="translate(0 1334.6)"><use href="#bd"/><text y="15">B</text></g>
<g id="b17-66" class="bead a" transform="translate(0 1429.5)"><use href="#bd"/><text y="15">A</text></g>
<g id="b17-68" class="bead a" transform="translate(0 1524.4)"><use href="#bd"/><text y="15">A</text></g>
<g id="b17-70" class="bead a" transform="translate(0 1619.3)"><use href="#bd"/><text y="15">A</text></g>
<g id="b17-72" class="bead a" transform="translate(0 1714.2)"><use href="#bd"/><text y="15">A</text></g>
</g>
</svg>
